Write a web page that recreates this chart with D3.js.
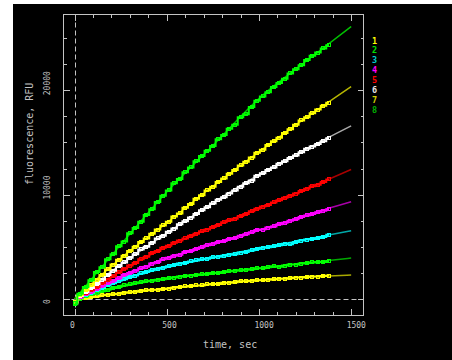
<!DOCTYPE html>
<html>
<head>
<meta charset="utf-8">
<script src="https://cdn.jsdelivr.net/npm/d3@7"></script>
<style>
  html, body { margin: 0; padding: 0; background: #fff; }
  svg { display: block; }
  text { font-family: "DejaVu Sans Mono", "Liberation Mono", monospace; }
</style>
</head>
<body>
<svg width="452" height="360"></svg>
<script>
// sample times (sec) of the measured points
const times = [0, 30, 60, 90, 120, 150, 180, 210, 240, 270, 300, 330, 360, 390, 420, 450,
  480, 510, 540, 570, 600, 630, 660, 690, 720, 750, 780, 810, 840, 870, 900, 930, 960, 990,
  1020, 1050, 1080, 1110, 1140, 1170, 1200, 1230, 1260, 1290, 1320, 1350, 1380];

// measured fluorescence, RFU (series 1..8, bottom to top)
const s1 = [-300, 0, 100, 200, 250, 350, 400, 450, 500, 600, 650, 700, 800, 850, 900, 900,
  950, 1000, 1100, 1150, 1200, 1250, 1300, 1300, 1400, 1450, 1450, 1550, 1550, 1600, 1700, 1700,
  1750, 1800, 1800, 1850, 1900, 1950, 1950, 2000, 2050, 2050, 2100, 2150, 2150, 2200, 2250];
const s2 = [-500, 50, 250, 450, 600, 750, 900, 1050, 1150, 1300, 1400, 1500, 1600, 1700, 1750, 1850,
  1900, 2000, 2050, 2150, 2200, 2250, 2300, 2350, 2400, 2500, 2500, 2600, 2650, 2700, 2750, 2800,
  2850, 2950, 2950, 3050, 3150, 3100, 3200, 3300, 3300, 3400, 3450, 3500, 3550, 3550, 3650];
const s3 = [-300, 150, 400, 600, 850, 1050, 1300, 1500, 1750, 1900, 2100, 2250, 2450, 2600, 2750, 2900,
  3000, 3150, 3250, 3400, 3450, 3600, 3700, 3800, 3850, 4000, 4050, 4150, 4250, 4300, 4450, 4500,
  4650, 4800, 4900, 4950, 5050, 5150, 5300, 5250, 5450, 5600, 5700, 5750, 5850, 5950, 6150];
const s4 = [-400, 150, 450, 700, 950, 1250, 1500, 1750, 2000, 2300, 2500, 2700, 2950, 3100, 3400, 3550,
  3800, 3950, 4150, 4250, 4500, 4600, 4800, 4950, 5150, 5300, 5450, 5550, 5750, 5850, 6050, 6200,
  6400, 6600, 6650, 6850, 6950, 7150, 7300, 7500, 7650, 7850, 8000, 8150, 8300, 8450, 8600];
const s5 = [-300, 250, 550, 850, 1150, 1500, 1850, 2200, 2550, 2900, 3200, 3450, 3800, 4050, 4400, 4600,
  4900, 5100, 5400, 5600, 5800, 6050, 6250, 6500, 6650, 6900, 7100, 7350, 7550, 7700, 7950, 8150,
  8400, 8650, 8850, 9000, 9250, 9450, 9700, 9900, 10100, 10350, 10550, 10800, 10950, 11200, 11450];
const s6 = [-300, 300, 650, 1050, 1450, 1850, 2300, 2700, 3150, 3500, 3950, 4300, 4750, 5000, 5400, 5800,
  6050, 6450, 6750, 7150, 7450, 7800, 8150, 8500, 8800, 9150, 9500, 9750, 10100, 10400, 10750, 11100,
  11350, 11800, 12050, 12350, 12600, 12950, 13200, 13500, 13750, 14050, 14400, 14600, 14850, 15100, 15400];
const s7 = [-300, 350, 850, 1300, 1850, 2300, 2850, 3300, 3750, 4150, 4600, 5000, 5450, 5800, 6250, 6650,
  7050, 7400, 7900, 8200, 8750, 9100, 9600, 9950, 10400, 10750, 11200, 11550, 12000, 12350, 12800, 13150,
  13550, 14000, 14300, 14750, 15100, 15450, 15900, 16250, 16700, 17100, 17400, 17800, 18150, 18500, 18800];
const s8 = [-400, 500, 1150, 1800, 2600, 3050, 3800, 4300, 5050, 5500, 6300, 6800, 7400, 8050, 8600, 9300,
  9900, 10400, 11100, 11500, 12150, 12600, 13200, 13700, 14200, 14650, 15300, 15700, 16300, 16700, 17400, 17700,
  18400, 19000, 19400, 19800, 20300, 20700, 21100, 21600, 22000, 22400, 22900, 23300, 23600, 24000, 24300];

// fitted curves, read at these times
const fitTimes = [0, 250, 500, 750, 1000, 1250, 1500];
const f1 = [0, 550, 990, 1450, 1820, 2100, 2300];
const f2 = [0, 1200, 1980, 2500, 2940, 3450, 3920];
const f3 = [0, 1800, 3090, 4000, 4850, 5700, 6540];
const f4 = [0, 2100, 3890, 5300, 6600, 8000, 9310];
const f5 = [0, 2700, 5000, 6900, 8700, 10500, 12410];
const f6 = [0, 3300, 6300, 9200, 11900, 14300, 16580];
const f7 = [0, 3900, 7300, 10800, 14100, 17300, 20350];
const f8 = [0, 5200, 10250, 14700, 19200, 22700, 26100];

const labels = ["1", "2", "3", "4", "5", "6", "7", "8"];
const dataColors = ["#ffff00", "#00ff00", "#00ffff", "#ff00ff", "#ff0000", "#ffffff", "#ffff00", "#00ff00"];
const fitColors = ["#a8a800", "#00a800", "#00a8a8", "#a800a8", "#a80000", "#a8a8a8", "#b4b400", "#00c000"];
const legendColors = ["#ffff00", "#00e000", "#00d0d0", "#ff00ff", "#ff0000", "#e8e8e8", "#d0d000", "#00b000"];

const xMajor = [0, 500, 1000, 1500];
const yMajor = [0, 10000, 20000];

const measured = [s1, s2, s3, s4, s5, s6, s7, s8];
const fits = [f1, f2, f3, f4, f5, f6, f7, f8];

///////////////////////////////////////////////////////
// setup
///////////////////////////////////////////////////////
const svg = d3.select("svg");
const frame = { left: 63.5, right: 363.5, top: 14.5, bottom: 315 };
const axisColor = "#c4c4c4";

const x = d3.scaleLinear().domain([-60, 1567]).range([frame.left, frame.right]);
const y = d3.scaleLinear().domain([-1530, 27250]).range([frame.bottom, frame.top]);

// black backdrop
svg.append("rect")
  .attr("x", 13).attr("y", 4)
  .attr("width", 439).attr("height", 356)
  .attr("fill", "#000");

// clip for the curves
svg.append("clipPath").attr("id", "plot-clip")
  .append("rect")
  .attr("x", frame.left).attr("y", frame.top)
  .attr("width", frame.right - frame.left).attr("height", frame.bottom - frame.top);

// dashed zero lines
svg.append("line")
  .attr("x1", frame.left).attr("x2", frame.right)
  .attr("y1", Math.round(y(0)) + 0.5).attr("y2", Math.round(y(0)) + 0.5)
  .attr("stroke", axisColor).attr("stroke-dasharray", "5,3");
svg.append("line")
  .attr("x1", Math.round(x(0)) + 0.5).attr("x2", Math.round(x(0)) + 0.5)
  .attr("y1", frame.top).attr("y2", frame.bottom)
  .attr("stroke", axisColor).attr("stroke-dasharray", "5,3");

// ticks on all four sides, pointing inward
const xTicks = d3.range(0, 1501, 100);
const yTicks = d3.range(0, 27001, 2500);
const tickG = svg.append("g")
  .attr("stroke", axisColor)
  .attr("shape-rendering", "crispEdges");

xTicks.forEach(t => {
  const len = t % 500 === 0 ? 6 : 3;
  const px = Math.round(x(t)) + 0.5;
  tickG.append("line").attr("x1", px).attr("x2", px)
    .attr("y1", frame.bottom).attr("y2", frame.bottom - len);
  tickG.append("line").attr("x1", px).attr("x2", px)
    .attr("y1", frame.top).attr("y2", frame.top + len);
});
yTicks.forEach(v => {
  const len = v % 10000 === 0 ? 6 : 3;
  const py = Math.round(y(v)) + 0.5;
  tickG.append("line").attr("y1", py).attr("y2", py)
    .attr("x1", frame.left).attr("x2", frame.left + len);
  tickG.append("line").attr("y1", py).attr("y2", py)
    .attr("x1", frame.right).attr("x2", frame.right - len);
});

// frame
svg.append("rect")
  .attr("x", frame.left).attr("y", frame.top)
  .attr("width", frame.right - frame.left).attr("height", frame.bottom - frame.top)
  .attr("fill", "none").attr("stroke", axisColor)
  .attr("shape-rendering", "crispEdges");

// tick labels
svg.append("g").selectAll("text")
  .data(xMajor).join("text")
  .attr("x", d => x(d) - 4.5)
  .attr("y", 328)
  .attr("fill", axisColor)
  .attr("font-size", 8)
  .text(d => d);

svg.append("g").selectAll("text")
  .data(yMajor).join("text")
  .attr("transform", d => `translate(50,${y(d) + 5}) rotate(-90)`)
  .attr("fill", axisColor)
  .attr("font-size", 8)
  .text(d => d);

// axis titles
svg.append("text")
  .attr("x", 203).attr("y", 348)
  .attr("fill", axisColor).attr("font-size", 10)
  .text("time, sec");
svg.append("text")
  .attr("transform", "translate(33,185) rotate(-90)")
  .attr("fill", axisColor).attr("font-size", 10)
  .text("fluorescence, RFU");

///////////////////////////////////////////////////////
// curves
///////////////////////////////////////////////////////
const chart = svg.append("g").attr("clip-path", "url(#plot-clip)");

const fitLine = d3.line()
  .x(d => x(d[0])).y(d => y(d[1]))
  .curve(d3.curveMonotoneX);
const stepLine = d3.line()
  .x(d => x(d[0])).y(d => y(d[1]))
  .curve(d3.curveStep);

fits.forEach((f, i) => {
  chart.append("path")
    .datum(fitTimes.map((t, j) => [t, f[j]]))
    .attr("d", fitLine)
    .attr("fill", "none")
    .attr("stroke", fitColors[i])
    .attr("stroke-width", 1.5);
});

measured.forEach((s, i) => {
  const pts = times.map((t, j) => [t, s[j]]);
  const g = chart.append("g");
  g.append("path")
    .datum(pts)
    .attr("d", stepLine)
    .attr("fill", "none")
    .attr("stroke", dataColors[i])
    .attr("stroke-width", 2);
  g.selectAll("rect")
    .data(pts).join("rect")
    .attr("x", d => Math.round(x(d[0])) - 1.5)
    .attr("y", d => Math.round(y(d[1])) - 1.5)
    .attr("width", 3).attr("height", 3)
    .attr("fill", "none")
    .attr("stroke", dataColors[i])
    .attr("shape-rendering", "crispEdges");
});

// legend
svg.append("g").selectAll("text")
  .data(labels).join("text")
  .attr("x", 372)
  .attr("y", (d, i) => 43.5 + i * 9.9)
  .attr("fill", (d, i) => legendColors[i])
  .attr("font-size", 8.5)
  .attr("font-weight", "bold")
  .text(d => d);
</script>
</body>
</html>
